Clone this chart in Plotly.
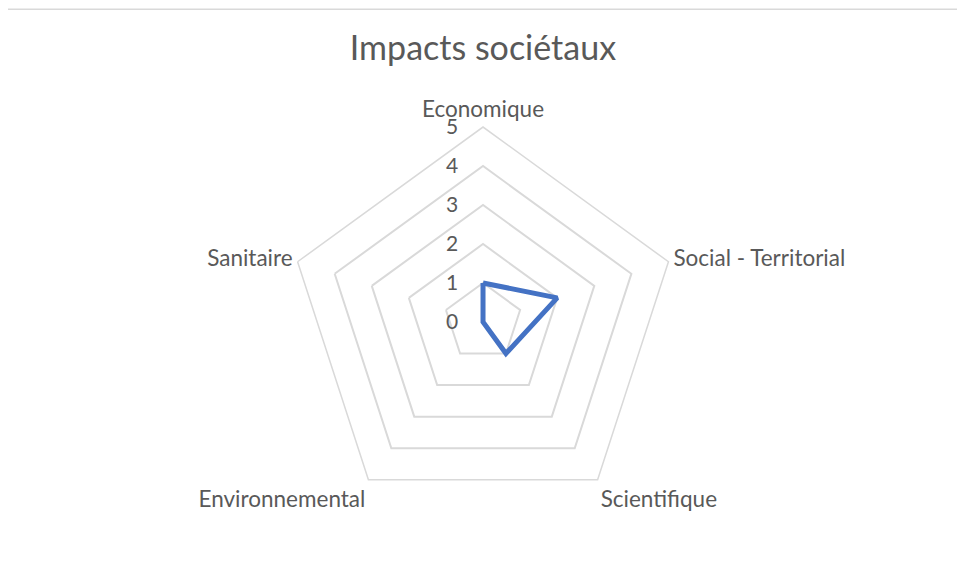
import plotly.graph_objects as go

categories = ["Economique", "Social - Territorial", "Scientifique", "Environnemental", "Sanitaire"]
values = [1, 2, 1, 0, 0]
radial_ticks = [0, 1, 2, 3, 4, 5]

font_name = "Lato, Open Sans, sans-serif"
grey_text = "#595959"

fig = go.Figure(go.Scatterpolar(
    r=values + values[:1],
    theta=categories + categories[:1],
    mode="lines",
    line=dict(color="#4472C4", width=5),
    hoverinfo="skip",
    showlegend=False,
))

fig.update_layout(
    width=965, height=569,
    margin=dict(l=0, r=0, t=0, b=0),
    paper_bgcolor="white",
    plot_bgcolor="white",
    font=dict(family=font_name, color=grey_text),
    title=dict(text="Impacts sociétaux", x=0.4922, xanchor="center",
               y=0.9297, yanchor="middle", yref="paper",
               font=dict(size=34, color=grey_text, family=font_name)),
    polar=dict(
        domain=dict(x=[0.2902, 0.6943], y=[0.1054, 0.7909]),
        bgcolor="white",
        gridshape="linear",
        angularaxis=dict(rotation=90, direction="clockwise",
                         showgrid=False, showline=True,
                         linecolor="#D9D9D9", linewidth=1.5,
                         ticks="", tickfont=dict(size=22.5, color=grey_text)),
        radialaxis=dict(range=[0, 5], tickvals=radial_ticks, angle=90,
                        tickangle=90, showline=False,
                        ticks="outside", ticklen=17,
                        tickcolor="rgba(0,0,0,0)",
                        side="counterclockwise",
                        gridcolor="#D9D9D9", gridwidth=1.5,
                        tickfont=dict(size=21, color=grey_text)),
    ),
    shapes=[dict(type="line", xref="paper", yref="paper", x0=0, x1=1,
                 y0=0.998, y1=0.998,
                 line=dict(color="#D9D9D9", width=1.5))],
)

fig.write_html("out.html")
